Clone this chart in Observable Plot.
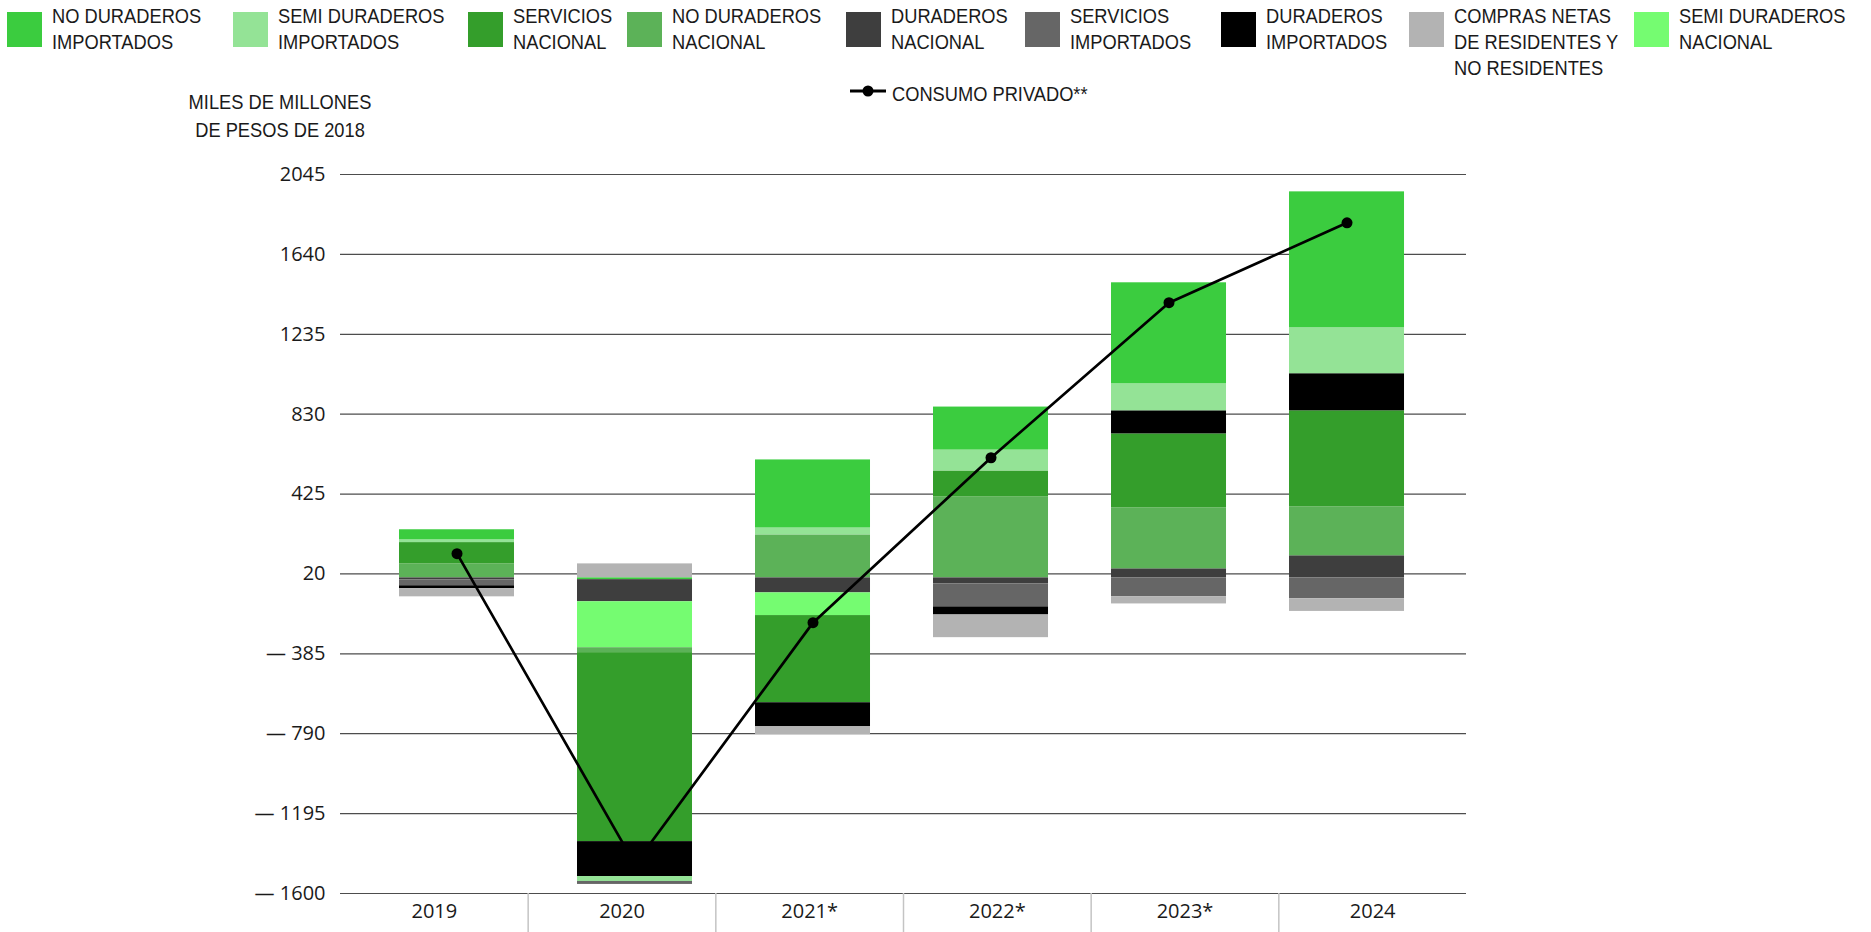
<!DOCTYPE html>
<html>
<head>
<meta charset="utf-8">
<script src="https://cdn.jsdelivr.net/npm/d3@7"></script>
<script src="https://cdn.jsdelivr.net/npm/@observablehq/plot@0.6"></script>
<style>
  html, body { margin: 0; padding: 0; background: #fff; }
  #page { position: relative; width: 1871px; height: 932px; overflow: hidden; background: #fff; }
  #header { position: relative; width: 1871px; height: 140px; font-family: "Liberation Sans", Arial, sans-serif; color: #1a1a1a; }
  .sw { position: absolute; top: 12px; width: 35px; height: 35px; }
  .lt { position: absolute; top: 3px; font-size: 21px; line-height: 26px; white-space: pre; transform: scaleX(0.87); transform-origin: 0 0; }
  #ytitle { position: absolute; left: 130px; width: 300px; top: 88px; font-size: 21px; line-height: 28px; text-align: center; white-space: pre; transform: scaleX(0.87); transform-origin: 50% 0; }
  #consumoLegend { position: absolute; left: 849px; top: 80px; }
  #consumoText { position: absolute; left: 892px; top: 81px; font-size: 21px; line-height: 26px; white-space: pre; transform: scaleX(0.87); transform-origin: 0 0; }
  #chart svg { display: block; }
</style>
</head>
<body>
<div id="page">
  <div id="header"></div>
  <div id="chart"></div>
</div>
<script>
// ---------------- DATA ----------------
const years = ["2019", "2020", "2021*", "2022*", "2023*", "2024"];

const seriesLabels = [
  "NO DURADEROS\nIMPORTADOS",
  "SEMI DURADEROS\nIMPORTADOS",
  "SERVICIOS\nNACIONAL",
  "NO DURADEROS\nNACIONAL",
  "DURADEROS\nNACIONAL",
  "SERVICIOS\nIMPORTADOS",
  "DURADEROS\nIMPORTADOS",
  "COMPRAS NETAS\nDE RESIDENTES Y\nNO RESIDENTES",
  "SEMI DURADEROS\nNACIONAL"
];
const seriesColors = ["#3bcc3f", "#94e396", "#349e2b", "#5cb258", "#3e3e3e", "#666666", "#000000", "#b3b3b3", "#75fc71"];

// values (miles de millones de pesos de 2018), one per year
const noDuraderosImportados   = [51, -9, 345, 218, 512, 689];
const semiDuraderosImportados = [14, -25, 35, 106, 137, 233];
const serviciosNacional       = [108, -958, -442, 132, 375, 487];
const noDuraderosNacional     = [71, -25, 218, 410, 309, 248];
const duraderosNacional       = [-10, -112, -76, -30, 46, 112];
const serviciosImportados     = [-30, -15, 0, -117, -96, -106];
const duraderosImportados     = [-15, -177, -122, -41, 117, 188];
const comprasNetas            = [-41, 71, -39, -115, -36, -64];
const semiDuraderosNacional   = [0, -233, -115, 0, 0, 0];
const consumoPrivado          = [123, -1452, -227, 609, 1395, 1800];

// stacking order (from zero outward) of the series in each year's bar
const stackOrder = [
  [3, 2, 1, 0, 4, 5, 6, 7, 8],
  [7, 0, 4, 8, 3, 2, 6, 1, 5],
  [3, 1, 0, 4, 8, 2, 6, 7, 5],
  [3, 2, 1, 0, 4, 5, 6, 7, 8],
  [4, 3, 2, 6, 1, 0, 5, 7, 8],
  [4, 3, 2, 6, 1, 0, 5, 7, 8]
];

const yTicks = [2045, 1640, 1235, 830, 425, 20, -385, -790, -1195, -1600];

// ---------------- LAYOUT ----------------
const legendLeft = [7, 232.5, 467.5, 626.5, 846, 1025, 1220.5, 1408.5, 1633.5];
const BAR_FIRST = 0.6208, BAR_STEP = 0.9485, BAR_HALF = 0.3064; // in category-slot units
const barCenter = i => BAR_FIRST + i * BAR_STEP;

// ---------------- HEADER (legend + y title) ----------------
const header = document.getElementById("header");
seriesLabels.forEach((label, k) => {
  const sw = document.createElement("div");
  sw.className = "sw";
  sw.style.left = legendLeft[k] + "px";
  sw.style.background = seriesColors[k];
  header.appendChild(sw);
  const t = document.createElement("div");
  t.className = "lt";
  t.style.left = (legendLeft[k] + 45) + "px";
  t.textContent = label;
  header.appendChild(t);
});
const yt = document.createElement("div");
yt.id = "ytitle";
yt.textContent = "MILES DE MILLONES\nDE PESOS DE 2018";
header.appendChild(yt);

const sym = document.createElementNS("http://www.w3.org/2000/svg", "svg");
sym.id = "consumoLegend";
sym.setAttribute("width", 40);
sym.setAttribute("height", 22);
sym.innerHTML = '<line x1="1" x2="37" y1="11" y2="11" stroke="#000" stroke-width="3"/><circle cx="19" cy="11" r="5.5" fill="#000"/>';
header.appendChild(sym);
const ct = document.createElement("div");
ct.id = "consumoText";
ct.textContent = "CONSUMO PRIVADO**";
header.appendChild(ct);

// ---------------- CHART ----------------
const seriesValues = [noDuraderosImportados, semiDuraderosImportados, serviciosNacional, noDuraderosNacional,
  duraderosNacional, serviciosImportados, duraderosImportados, comprasNetas, semiDuraderosNacional];

const table = [];
years.forEach((year, i) => {
  stackOrder[i].forEach(s => {
    const v = seriesValues[s][i];
    if (v !== 0) table.push({i, year, series: seriesLabels[s], value: v});
  });
});
const consumoRows = years.map((year, i) => ({i, year, value: consumoPrivado[i]}));

const chart = Plot.plot({
  width: 1871,
  height: 792,
  marginLeft: 340,
  marginRight: 405,
  marginTop: 34,
  marginBottom: 39,
  x: {type: "linear", domain: [0, 6]},
  y: {domain: [-1600, 2045]},
  color: {domain: seriesLabels, range: seriesColors},
  style: {fontFamily: "'Open Sans', sans-serif", fontSize: "20px", color: "#1a1a1a", background: "#fff", overflow: "visible"},
  marks: [
    Plot.ruleY(yTicks, {stroke: "#4d4d4d", strokeWidth: 1.2}),
    Plot.rectY(table, {
      x1: d => barCenter(d.i) - BAR_HALF,
      x2: d => barCenter(d.i) + BAR_HALF,
      y: "value",
      fill: "series"
    }),
    Plot.line(consumoRows, {x: d => barCenter(d.i), y: "value", stroke: "#000", strokeWidth: 2.7}),
    Plot.dot(consumoRows, {x: d => barCenter(d.i), y: "value", r: 5.5, fill: "#000"}),
    Plot.axisY({ticks: yTicks, tickSize: 0, tickPadding: 15, fontSize: 20,
      tickFormat: d => d < 0 ? `— ${-d}` : `${d}`, label: null}),
    Plot.axisX({ticks: years.map((_, i) => i + 0.5), tickFormat: d => years[Math.floor(d)],
      tickSize: 0, tickPadding: 10, fontSize: 20, label: null}),
    Plot.axisX({ticks: [1, 2, 3, 4, 5], tickFormat: () => "", tickSize: 39,
      stroke: "#c4c4c4", strokeWidth: 1.5, label: null})
  ]
});
document.getElementById("chart").appendChild(chart);
</script>
</body>
</html>
